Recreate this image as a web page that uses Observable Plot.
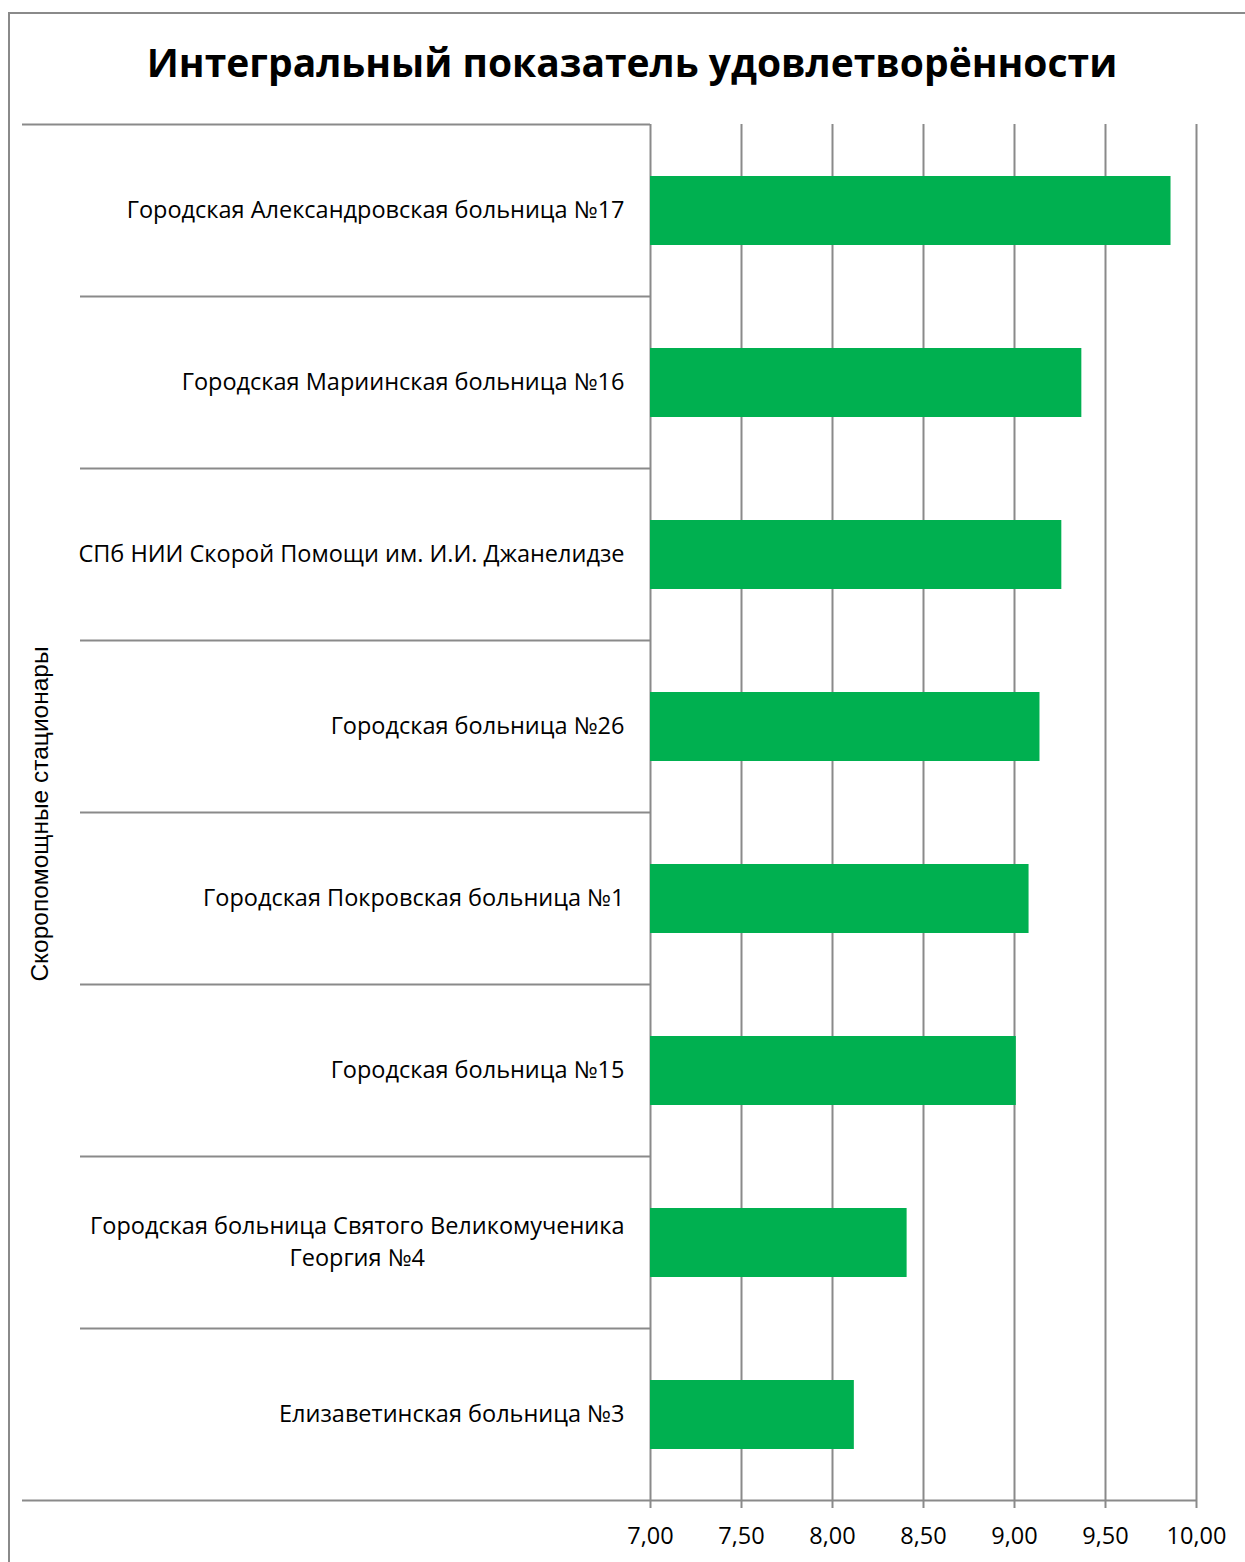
<!DOCTYPE html>
<html>
<head>
<meta charset="utf-8">
<script src="https://cdn.jsdelivr.net/npm/d3@7"></script>
<script src="https://cdn.jsdelivr.net/npm/@observablehq/plot@0.6"></script>
<style>
  html, body { margin: 0; padding: 0; background: #fff; }
  body { width: 1245px; height: 1562px; position: relative; overflow: hidden; }
  #frame { position: absolute; left: 8px; top: 12px; width: 1260px; height: 1600px; border: 2px solid #8a8a8a; box-sizing: border-box; }
  #title { position: absolute; left: 8px; width: 1248px; top: 36px; text-align: center;
           font-family: "Open Sans", sans-serif; font-weight: 700; font-size: 39px; line-height: 52px; color: #000; }
  #ytitle { position: absolute; left: 40px; top: 814px; transform: translate(-50%, -50%) rotate(-90deg);
            font-family: "Liberation Sans", Arial, sans-serif; font-size: 24.5px; white-space: nowrap; color: #000; }
  #chart { position: absolute; left: 0; top: 100px; }
</style>
</head>
<body>
<div id="frame"></div>
<div id="title"></div>
<div id="ytitle"></div>
<div id="chart"></div>
<script>
const titleText = "Интегральный показатель удовлетворённости";
const yTitle = "Скоропомощные стационары";
const categories = [
  "Городская Александровская больница №17",
  "Городская Мариинская больница №16",
  "СПб НИИ Скорой Помощи им. И.И. Джанелидзе",
  "Городская больница №26",
  "Городская Покровская больница №1",
  "Городская больница №15",
  "Городская больница Святого Великомученика\nГеоргия №4",
  "Елизаветинская больница №3"
];
const values = [9.86, 9.37, 9.26, 9.14, 9.08, 9.01, 8.41, 8.12];
const xDomain = [7, 10];
const xTicks = [7, 7.5, 8, 8.5, 9, 9.5, 10];

document.getElementById("title").textContent = titleText;
document.getElementById("ytitle").textContent = yTitle;

const data = categories.map((c, i) => ({name: c, value: values[i]}));
const fmt = d => d.toFixed(2).replace(".", ",");
const gray = "#8a8a8a";

function separators(index, scales, values, dimensions) {
  const y = scales.y || (scales.scales && scales.scales.y);
  const step = y.step();
  const pad = (step - y.bandwidth()) / 2;
  const g = d3.create("svg:g").attr("stroke", gray).attr("stroke-width", 2);
  const left = dimensions.marginLeft;
  categories.forEach((c, i) => {
    g.append("line")
      .attr("x1", i === 0 ? 22 : 80).attr("x2", left)
      .attr("y1", y(c) - pad).attr("y2", y(c) - pad);
  });
  const last = categories[categories.length - 1];
  const yb = y(last) + y.bandwidth() + pad;
  g.append("line").attr("x1", 22).attr("x2", dimensions.width - dimensions.marginRight)
    .attr("y1", yb).attr("y2", yb);
  return g.node();
}

const chart = Plot.plot({
  width: 1245,
  height: 1462,
  marginTop: 24,
  marginBottom: 61,
  marginLeft: 650,
  marginRight: 49,
  style: {fontFamily: "Open Sans, sans-serif", background: "transparent"},
  x: {domain: xDomain, axis: null},
  y: {domain: categories, paddingInner: 0.6, paddingOuter: 0.3, axis: null},
  marks: [
    Plot.gridX(xTicks, {stroke: gray, strokeOpacity: 1, strokeWidth: 2}),
    Plot.barX(data, {x1: () => xDomain[0], x2: "value", y: "name", fill: "#00B050"}),
    separators,
    Plot.axisX(xTicks, {tickSize: 7, tickPadding: 19, tickFormat: fmt, fontSize: 23.5, stroke: gray, strokeWidth: 2, fill: "#000", label: null}),
    Plot.text(data, {y: "name", text: "name", frameAnchor: "left", textAnchor: "end", dx: -26, dy: -3, fontSize: 23.5, lineHeight: 1.36, fill: "#000"})
  ]
});
document.getElementById("chart").appendChild(chart);

// center multi-line labels within their own block (right-aligned block, centered lines)
d3.select(chart).selectAll("text").each(function() {
  const ts = this.querySelectorAll("tspan");
  if (ts.length > 1) {
    const w = this.getBBox().width;
    this.setAttribute("text-anchor", "middle");
    ts.forEach(t => t.setAttribute("x", -w / 2));
  }
});
</script>
</body>
</html>
